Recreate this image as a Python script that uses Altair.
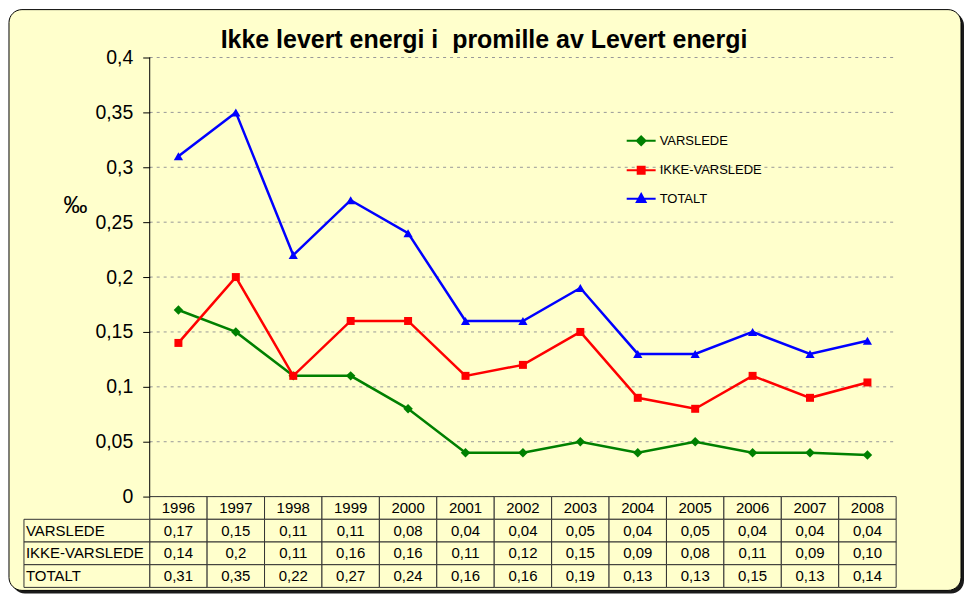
import altair as alt
import pandas as pd

years = ["1996", "1997", "1998", "1999", "2000", "2001", "2002", "2003",
         "2004", "2005", "2006", "2007", "2008"]
series_names = ["VARSLEDE", "IKKE-VARSLEDE", "TOTALT"]
varslede = [0.17, 0.15, 0.11, 0.11, 0.08, 0.04, 0.04, 0.05, 0.04, 0.05, 0.04, 0.04, 0.038]
ikke_varslede = [0.14, 0.20, 0.11, 0.16, 0.16, 0.11, 0.12, 0.15, 0.09, 0.08, 0.11, 0.09, 0.104]
totalt = [0.31, 0.35, 0.22, 0.27, 0.24, 0.16, 0.16, 0.19, 0.13, 0.13, 0.15, 0.13, 0.142]
table_varslede = ["0,17", "0,15", "0,11", "0,11", "0,08", "0,04", "0,04", "0,05", "0,04", "0,05", "0,04", "0,04", "0,04"]
table_ikke = ["0,14", "0,2", "0,11", "0,16", "0,16", "0,11", "0,12", "0,15", "0,09", "0,08", "0,11", "0,09", "0,10"]
table_totalt = ["0,31", "0,35", "0,22", "0,27", "0,24", "0,16", "0,16", "0,19", "0,13", "0,13", "0,15", "0,13", "0,14"]
y_ticks = [0, 0.05, 0.1, 0.15, 0.2, 0.25, 0.3, 0.35, 0.4]
colors = ["#008000", "#FF0000", "#0000FF"]
shapes = ["diamond", "square", "triangle-up"]
title_text = "Ikke levert energi i \u00a0promille av Levert energi"

FONT = "Liberation Sans"
BG = "#FFFFCC"
W, H = 748, 531
TABLE_SPAN = 0.0827
ROW = TABLE_SPAN / 4
Y_MIN = -TABLE_SPAN

rows = []
for name, vals in zip(series_names, [varslede, ikke_varslede, totalt]):
    for yr, v in zip(years, vals):
        rows.append({"year": yr, "series": name, "value": v})
df = pd.DataFrame(rows)

cells = []
for yr in years:
    cells.append({"year": yr, "row": 0, "text": yr})
for r, tv in enumerate([table_varslede, table_ikke, table_totalt], start=1):
    for yr, t in zip(years, tv):
        cells.append({"year": yr, "row": r, "text": t})
cdf = pd.DataFrame(cells)
cdf["top"] = -cdf["row"] * ROW
cdf["bot"] = -(cdf["row"] + 1) * ROW
cdf["mid"] = -(cdf["row"] + 0.5) * ROW

lab = pd.DataFrame({"text": series_names, "row": [1, 2, 3]})
lab["top"] = -lab["row"] * ROW
lab["bot"] = -(lab["row"] + 1) * ROW
lab["mid"] = -(lab["row"] + 0.5) * ROW

xscale = alt.Scale(type="band", domain=years, paddingInner=0, paddingOuter=0)
yscale = alt.Scale(domain=[Y_MIN, 0.4], nice=False, zero=False)
cscale = alt.Scale(domain=series_names, range=colors)

yaxis = alt.Axis(
    values=y_ticks, domain=False, grid=False, zindex=1,
    tickSize=7, tickColor="#000000", tickWidth=1,
    labelFont=FONT, labelFontSize=19.5, labelColor="#000000", labelPadding=10,
    labelExpr="replace(toString(datum.value), '.', ',')",
    title="‰", titleAngle=0, titleFont=FONT, titleFontSize=24, titleFontWeight="normal",
    titleColor="#000000", titleX=-75, titleY=148.5, titleAlign="center", titleBaseline="middle")

paths = {
    "VARSLEDE": "M-1,0H1M0,-0.3L0.3,0L0,0.3L-0.3,0Z",
    "IKKE-VARSLEDE": "M-1,0H1M-0.24,-0.24H0.24V0.24H-0.24Z",
    "TOTALT": "M-1,0H1M0,-0.32L0.3,0.22H-0.3Z",
}
shape_expr = ("datum.value === 'VARSLEDE' ? '%s' : datum.value === 'IKKE-VARSLEDE' ? '%s' : '%s'"
              % (paths["VARSLEDE"], paths["IKKE-VARSLEDE"], paths["TOTALT"]))
color_expr = ("datum.value === 'VARSLEDE' ? '%s' : datum.value === 'IKKE-VARSLEDE' ? '%s' : '%s'"
              % tuple(colors))

legend = alt.Legend(
    title=None, orient="none", legendX=477, legendY=68,
    symbolSize=841, rowPadding=5.5, padding=0, labelOffset=3,
    labelFont=FONT, labelFontSize=13, labelColor="#000000",
    symbolStrokeWidth=2, symbolOpacity=1,
    symbolType=alt.ExprRef(expr=shape_expr),
    symbolStrokeColor=alt.ExprRef(expr=color_expr),
    symbolFillColor=alt.ExprRef(expr=color_expr),
)

one = alt.Data(values=[{"a": 1}])

shadow = alt.Chart(one).mark_rect(fill="#1a1a1a", cornerRadius=13).encode(
    x=alt.value(-138), x2=alt.value(816), y=alt.value(-45), y2=alt.value(537))
frame = alt.Chart(one).mark_rect(fill=BG, stroke="#000000", strokeWidth=1, cornerRadius=13).encode(
    x=alt.value(-141), x2=alt.value(813), y=alt.value(-48), y2=alt.value(534))

title = alt.Chart(one).mark_text(
    text=title_text, font=FONT, fontSize=25, fontWeight="bold", color="#000000",
    align="center", baseline="alphabetic").encode(x=alt.value(335), y=alt.value(-9.5))

base = alt.Chart(df)

tick_df = pd.DataFrame({"v": y_ticks})

grid = alt.Chart(tick_df).mark_rule(color="#999999", strokeWidth=1, strokeDash=[3, 4]).encode(
    y=alt.Y("v:Q", scale=yscale, axis=yaxis), x=alt.value(0), x2=alt.value(W))

yline = alt.Chart(pd.DataFrame({"a": [0], "b": [0.4]})).mark_rule(color="#000000", strokeWidth=1).encode(
    y=alt.Y("a:Q", scale=yscale, axis=yaxis), y2="b:Q", x=alt.value(0))

lines = base.mark_line(strokeWidth=2.5).encode(
    x=alt.X("year:O", scale=xscale, axis=None),
    y=alt.Y("value:Q", scale=yscale, axis=yaxis),
    color=alt.Color("series:N", scale=cscale, legend=legend),
    detail="series:N")

point_layers = []
for name, shp, sz in zip(series_names, shapes, [90, 64, 85]):
    point_layers.append(
        base.transform_filter(alt.datum.series == name).mark_point(
            filled=True, size=sz, opacity=1, shape=shp).encode(
            x=alt.X("year:O", scale=xscale, axis=None),
            y=alt.Y("value:Q", scale=yscale, axis=yaxis),
            color=alt.Color("series:N", scale=cscale, legend=legend)))

cell_rects = alt.Chart(cdf).mark_rect(fill=BG, stroke="#333333", strokeWidth=1).encode(
    x=alt.X("year:O", scale=xscale, axis=None),
    y=alt.Y("top:Q", scale=yscale, axis=yaxis), y2="bot:Q")

cell_text = alt.Chart(cdf).mark_text(font=FONT, fontSize=15, color="#000000", baseline="middle").encode(
    x=alt.X("year:O", scale=xscale, axis=None),
    y=alt.Y("mid:Q", scale=yscale, axis=yaxis), text="text:N")

lab_rects = alt.Chart(lab).mark_rect(fill=BG, stroke="#333333", strokeWidth=1).encode(
    x=alt.value(-126), x2=alt.value(0),
    y=alt.Y("top:Q", scale=yscale, axis=yaxis), y2="bot:Q")

lab_text = alt.Chart(lab).mark_text(font=FONT, fontSize=15, color="#000000", align="left",
                                    baseline="middle").encode(
    x=alt.value(-124), y=alt.Y("mid:Q", scale=yscale, axis=yaxis), text="text:N")

chart = alt.layer(
    shadow, frame, title, grid, yline, cell_rects, cell_text, lab_rects, lab_text,
    lines, *point_layers
).properties(
    width=W, height=H, padding=0, background="transparent"
).configure_view(stroke=None).resolve_scale(x="shared", y="shared")

chart.save("out.html", embed_options={"renderer": "svg", "actions": False})
